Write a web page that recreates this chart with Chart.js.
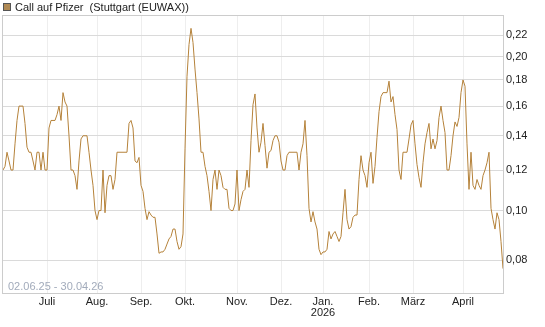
<!DOCTYPE html>
<html>
<head>
<meta charset="utf-8">
<script src="https://cdn.jsdelivr.net/npm/chart.js@4"></script>
<style>
  html, body { margin: 0; padding: 0; background: #fff; }
  canvas { display: block; }
</style>
</head>
<body>
<canvas id="chart" width="545" height="327"></canvas>
<script>
// warrant price, sampled evenly over 02.06.25 - 30.04.26
const values = [
  0.12, 0.122, 0.13, 0.125, 0.12, 0.12, 0.135, 0.15, 0.16, 0.16,
  0.16, 0.148, 0.133, 0.13, 0.13, 0.125, 0.12, 0.13, 0.13, 0.12,
  0.13, 0.12, 0.12, 0.145, 0.15, 0.15, 0.15, 0.154, 0.16, 0.15,
  0.17, 0.163, 0.16, 0.14, 0.12, 0.12, 0.117, 0.11, 0.125, 0.138,
  0.14, 0.14, 0.14, 0.13, 0.12, 0.112, 0.10, 0.096, 0.10, 0.10,
  0.12, 0.099, 0.112, 0.117, 0.117, 0.11, 0.115, 0.13, 0.13, 0.13,
  0.13, 0.13, 0.13, 0.148, 0.15, 0.145, 0.125, 0.124, 0.127, 0.112,
  0.109, 0.101, 0.096, 0.0995, 0.098, 0.097, 0.097, 0.09, 0.0825, 0.083,
  0.083, 0.084, 0.086, 0.088, 0.089, 0.092, 0.092, 0.087, 0.084, 0.085,
  0.09, 0.132, 0.183, 0.211, 0.227, 0.213, 0.189, 0.17, 0.151, 0.13,
  0.13, 0.122, 0.117, 0.109, 0.10, 0.115, 0.12, 0.11, 0.12, 0.117,
  0.111, 0.11, 0.11, 0.101, 0.10, 0.10, 0.103, 0.12, 0.10, 0.105,
  0.109, 0.11, 0.12, 0.111, 0.137, 0.161, 0.169, 0.145, 0.13, 0.136,
  0.148, 0.134, 0.121, 0.13, 0.131, 0.137, 0.14, 0.14, 0.136, 0.125,
  0.12, 0.12, 0.128, 0.13, 0.13, 0.13, 0.13, 0.13, 0.12, 0.13,
  0.135, 0.15, 0.128, 0.101, 0.095, 0.0995, 0.095, 0.092, 0.084, 0.082,
  0.083, 0.083, 0.084, 0.091, 0.088, 0.09, 0.091, 0.089, 0.087, 0.089,
  0.099, 0.11, 0.096, 0.092, 0.093, 0.097, 0.098, 0.098, 0.115, 0.128,
  0.12, 0.117, 0.111, 0.124, 0.13, 0.113, 0.122, 0.139, 0.156, 0.167,
  0.17, 0.17, 0.17, 0.179, 0.163, 0.167, 0.154, 0.144, 0.12, 0.115,
  0.13, 0.13, 0.13, 0.138, 0.147, 0.15, 0.135, 0.123, 0.116, 0.111,
  0.124, 0.135, 0.142, 0.148, 0.132, 0.138, 0.132, 0.137, 0.152, 0.16,
  0.15, 0.142, 0.12, 0.12, 0.128, 0.14, 0.149, 0.146, 0.152, 0.17,
  0.18, 0.175, 0.135, 0.11, 0.13, 0.112, 0.11, 0.115, 0.112, 0.11,
  0.117, 0.12, 0.124, 0.13, 0.101, 0.096, 0.092, 0.099, 0.096, 0.087,
  0.077
];
// sample index where each month begins
const monthStarts = [22, 47, 69, 91, 117, 139, 160, 183, 205, 230];
const monthLabels = ['Juli', 'Aug.', 'Sep.', 'Okt.', 'Nov.', 'Dez.', ['Jan.', '2026'], 'Feb.', 'März', 'April'];
const yTicks = [0.08, 0.10, 0.12, 0.14, 0.16, 0.18, 0.20, 0.22];
const seriesName = 'Call auf Pfizer  (Stuttgart (EUWAX))';
const dateRange = '02.06.25 - 30.04.26';

const FONT = '"Liberation Sans", Arial, sans-serif';
const LINE_COLOR = '#b5823a';

const extras = {
  id: 'extras',
  beforeDatasetsDraw(chart) {
    const { ctx, chartArea: a } = chart;
    ctx.save();
    ctx.strokeStyle = '#cccccc';
    ctx.lineWidth = 1;
    ctx.strokeRect(a.left - 0.5, a.top - 0.5, a.right - a.left + 1, a.bottom - a.top + 1);
    ctx.restore();
  },
  afterDraw(chart) {
    const { ctx, chartArea: a } = chart;
    ctx.save();
    // title box + text
    ctx.fillStyle = '#b08a55';
    ctx.fillRect(3, 3, 8, 8);
    ctx.strokeStyle = '#555';
    ctx.lineWidth = 1;
    ctx.strokeRect(3.5, 3.5, 7, 7);
    ctx.font = '11px ' + FONT;
    ctx.fillStyle = '#222';
    ctx.textBaseline = 'middle';
    ctx.fillText(seriesName, 15, 7.5);
    // date range
    ctx.fillStyle = '#a2abbb';
    ctx.fillText(dateRange, a.left + 5, a.bottom - 6);
    ctx.restore();
  }
};

new Chart(document.getElementById('chart'), {
  type: 'line',
  data: {
    datasets: [{
      label: seriesName,
      data: values.map((v, i) => ({ x: i, y: v })),
      borderColor: LINE_COLOR,
      borderWidth: 1,
      pointRadius: 0,
      tension: 0,
      fill: false,
    }],
  },
  options: {
    responsive: false,
    devicePixelRatio: 1,
    animation: false,
    layout: { padding: { left: 3, top: 16, right: 0, bottom: 0 } },
    plugins: { legend: { display: false }, tooltip: { enabled: false } },
    scales: {
      x: {
        type: 'linear',
        min: 0,
        max: values.length - 1,
        afterBuildTicks: (scale) => {
          scale.ticks = monthStarts.map((v) => ({ value: v }));
        },
        afterFit: (scale) => { scale.height = 34; },
        grid: { color: '#eeeeee', drawTicks: false },
        border: { display: false },
        ticks: {
          autoSkip: false,
          maxRotation: 0,
          padding: 3,
          color: '#222',
          font: { family: FONT, size: 11, lineHeight: 1.05 },
          callback: (value, index) => monthLabels[index],
        },
      },
      y: {
        type: 'logarithmic',
        position: 'right',
        min: 0.069,
        max: 0.24,
        afterBuildTicks: (scale) => {
          scale.ticks = yTicks.map((v) => ({ value: v }));
        },
        afterFit: (scale) => { scale.width = 42; },
        grid: { color: '#dadada', drawTicks: false },
        border: { display: false },
        ticks: {
          padding: 3,
          color: '#222',
          font: { family: FONT, size: 11 },
          callback: (value) => value.toFixed(2).replace('.', ','),
        },
      },
    },
  },
  plugins: [extras],
});
</script>
</body>
</html>
